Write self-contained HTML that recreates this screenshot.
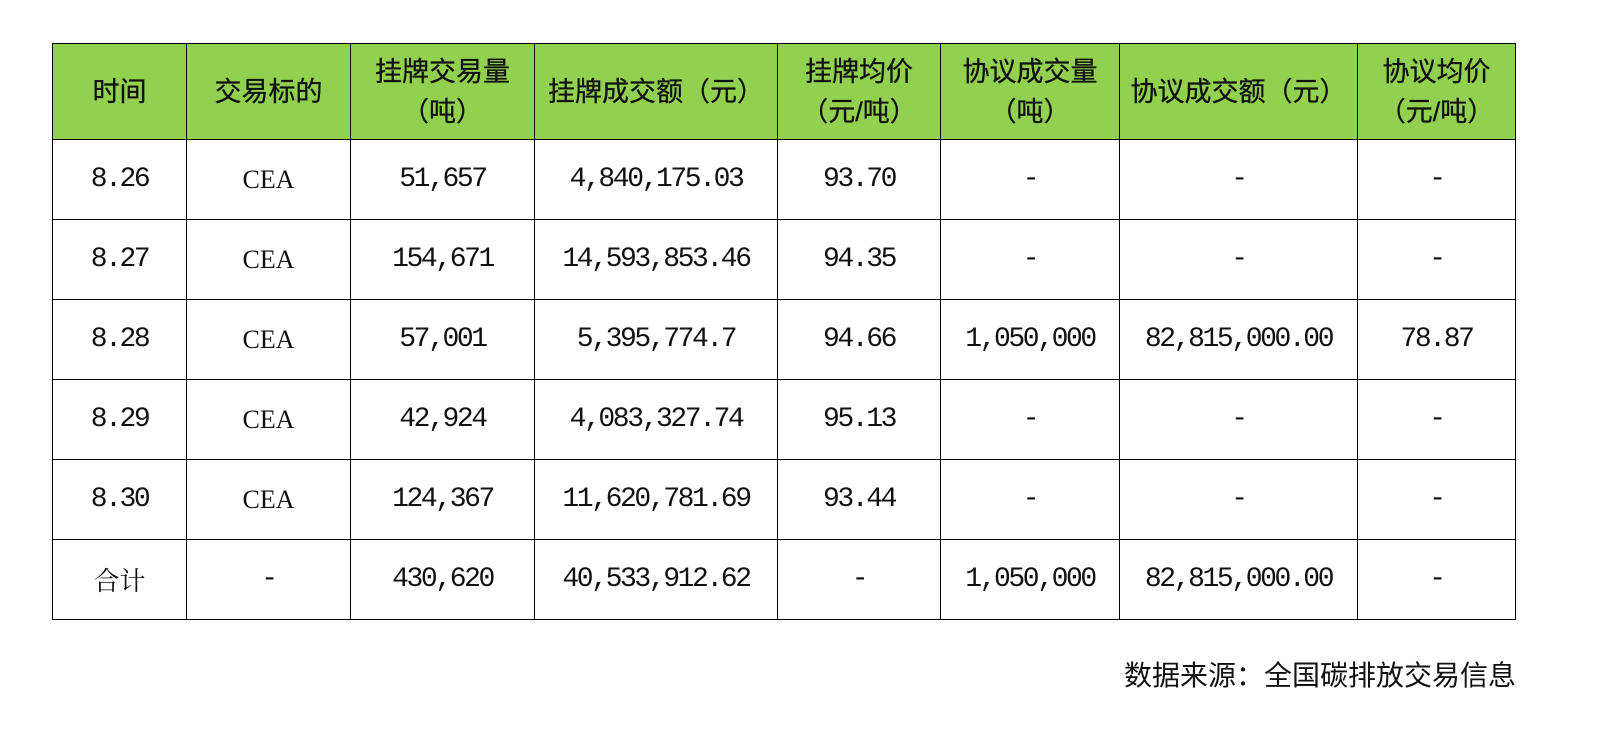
<!DOCTYPE html>
<html><head><meta charset="utf-8"><style>
body{margin:0;width:1600px;height:747px;background:#fff;position:relative;overflow:hidden}
table{position:absolute;left:52px;top:43px;border-collapse:collapse;table-layout:fixed;width:1463px}
td{border:1.5px solid #000;text-align:center;padding:0;color:#111;white-space:nowrap}
tr.h td{background:#92d050;font-family:"Liberation Sans","Noto Sans CJK SC",sans-serif;font-size:27px;line-height:40px;height:95px;-webkit-text-stroke:0.3px #111}
tr.d td{height:79px;font-family:"Liberation Mono","Noto Serif CJK SC",monospace;font-size:28px;letter-spacing:-2.4px}
tr.d td.c{font-family:"Liberation Serif","Noto Serif CJK SC",serif;font-size:26px;letter-spacing:0}
.src{position:absolute;right:84px;top:654px;font-family:"Liberation Sans","Noto Sans CJK SC",sans-serif;font-size:28px;color:#111}
</style></head><body>
<table>
<colgroup><col style="width:134px"><col style="width:164px"><col style="width:184px"><col style="width:243px"><col style="width:163px"><col style="width:179px"><col style="width:238px"><col style="width:158px"></colgroup>
<tr class="h"><td>时间</td><td>交易标的</td><td>挂牌交易量<br>（吨）</td><td>挂牌成交额（元）</td><td>挂牌均价<br>（元/吨）</td><td>协议成交量<br>（吨）</td><td>协议成交额（元）</td><td>协议均价<br>（元/吨）</td></tr>
<tr class="d"><td>8.26</td><td class="c">CEA</td><td>51,657</td><td>4,840,175.03</td><td>93.70</td><td>-</td><td>-</td><td>-</td></tr>
<tr class="d"><td>8.27</td><td class="c">CEA</td><td>154,671</td><td>14,593,853.46</td><td>94.35</td><td>-</td><td>-</td><td>-</td></tr>
<tr class="d"><td>8.28</td><td class="c">CEA</td><td>57,001</td><td>5,395,774.7</td><td>94.66</td><td>1,050,000</td><td>82,815,000.00</td><td>78.87</td></tr>
<tr class="d"><td>8.29</td><td class="c">CEA</td><td>42,924</td><td>4,083,327.74</td><td>95.13</td><td>-</td><td>-</td><td>-</td></tr>
<tr class="d"><td>8.30</td><td class="c">CEA</td><td>124,367</td><td>11,620,781.69</td><td>93.44</td><td>-</td><td>-</td><td>-</td></tr>
<tr class="d"><td class="c">合计</td><td>-</td><td>430,620</td><td>40,533,912.62</td><td>-</td><td>1,050,000</td><td>82,815,000.00</td><td>-</td></tr>
</table>
<div class="src">数据来源：全国碳排放交易信息</div>
</body></html>
